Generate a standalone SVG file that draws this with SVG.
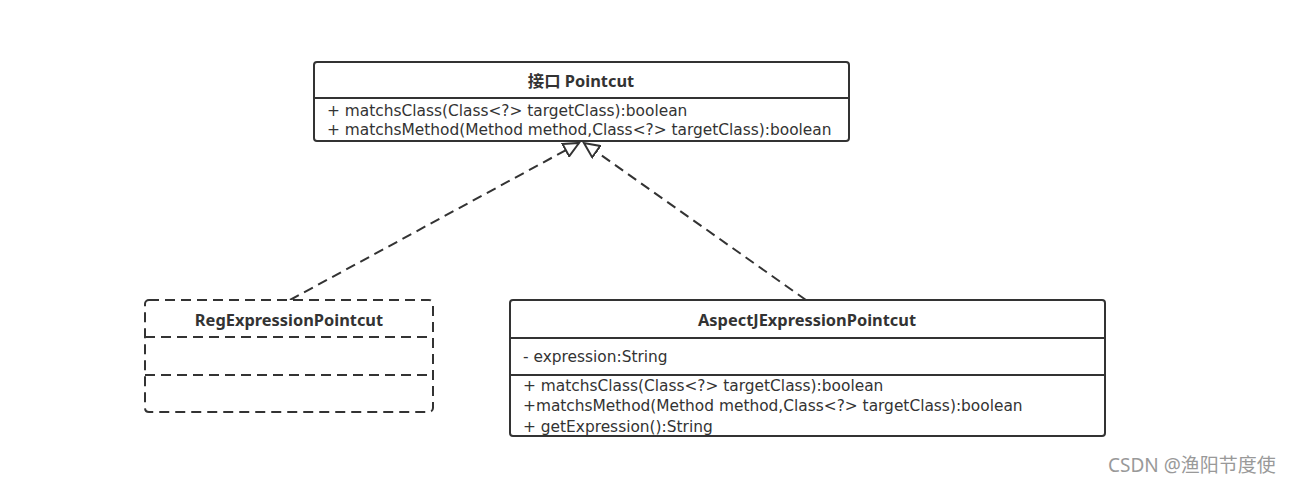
<svg xmlns="http://www.w3.org/2000/svg" width="1293" height="485" viewBox="0 0 1293 485">
<style>
.box{fill:#fff;stroke:#333;stroke-width:2}
.dbox{fill:#fff;stroke:#333;stroke-width:2;stroke-dasharray:10,6}
.ln{stroke:#333;stroke-width:2}
.dln{stroke:#333;stroke-width:2;stroke-dasharray:10,6}
.t{font-family:"DejaVu Sans","Noto Sans CJK SC",sans-serif;font-size:15.4px;fill:#333}
.b{font-family:"Noto Sans","Noto Sans CJK SC",sans-serif;font-weight:bold;text-anchor:middle;font-size:16.4px;fill:#333}
.conn{stroke:#333;stroke-width:2;stroke-dasharray:10,6;fill:none}
</style>
<defs>
<marker id="tri" markerWidth="18" markerHeight="16" refX="16" refY="8" orient="auto" markerUnits="userSpaceOnUse">
<path d="M1,1 L16,8 L1,15 Z" fill="#fff" stroke="#333" stroke-width="2"/>
</marker>
</defs>
<rect width="1293" height="485" fill="#fff"/>
<g id="connectors">
<line class="conn" x1="290" y1="300" x2="579" y2="143" marker-end="url(#tri)"/>
<line class="conn" x1="806" y1="300" x2="584" y2="143" marker-end="url(#tri)"/>
</g>
<g id="pointcut">
<rect class="box" x="314" y="62" width="535" height="79" rx="3"/>
<line class="ln" x1="314" y1="98" x2="849" y2="98"/>
<text class="b" x="581" y="87">接口 Pointcut</text>
<text class="t" x="327" y="116">+ matchsClass(Class&lt;?&gt; targetClass):boolean</text>
<text class="t" x="327" y="135">+ matchsMethod(Method method,Class&lt;?&gt; targetClass):boolean</text>
</g>
<g id="reg">
<rect class="dbox" x="145" y="300" width="288" height="112" rx="4"/>
<line class="dln" x1="145" y1="337" x2="433" y2="337"/>
<line class="dln" x1="145" y1="375" x2="433" y2="375"/>
<text class="b" x="289" y="326">RegExpressionPointcut</text>
</g>
<g id="aspectj">
<rect class="box" x="510" y="300" width="595" height="136" rx="3"/>
<line class="ln" x1="510" y1="338" x2="1105" y2="338"/>
<line class="ln" x1="510" y1="375" x2="1105" y2="375"/>
<text class="b" x="807" y="326">AspectJExpressionPointcut</text>
<text class="t" x="523" y="362">- expression:String</text>
<text class="t" x="523" y="391">+ matchsClass(Class&lt;?&gt; targetClass):boolean</text>
<text class="t" x="523" y="411">+matchsMethod(Method method,Class&lt;?&gt; targetClass):boolean</text>
<text class="t" x="523" y="432">+ getExpression():String</text>
</g>
<text x="1108" y="472" style="font-family:'Noto Sans','Noto Sans CJK SC',sans-serif;font-size:19px;fill:#999">CSDN @渔阳节度使</text>
</svg>
